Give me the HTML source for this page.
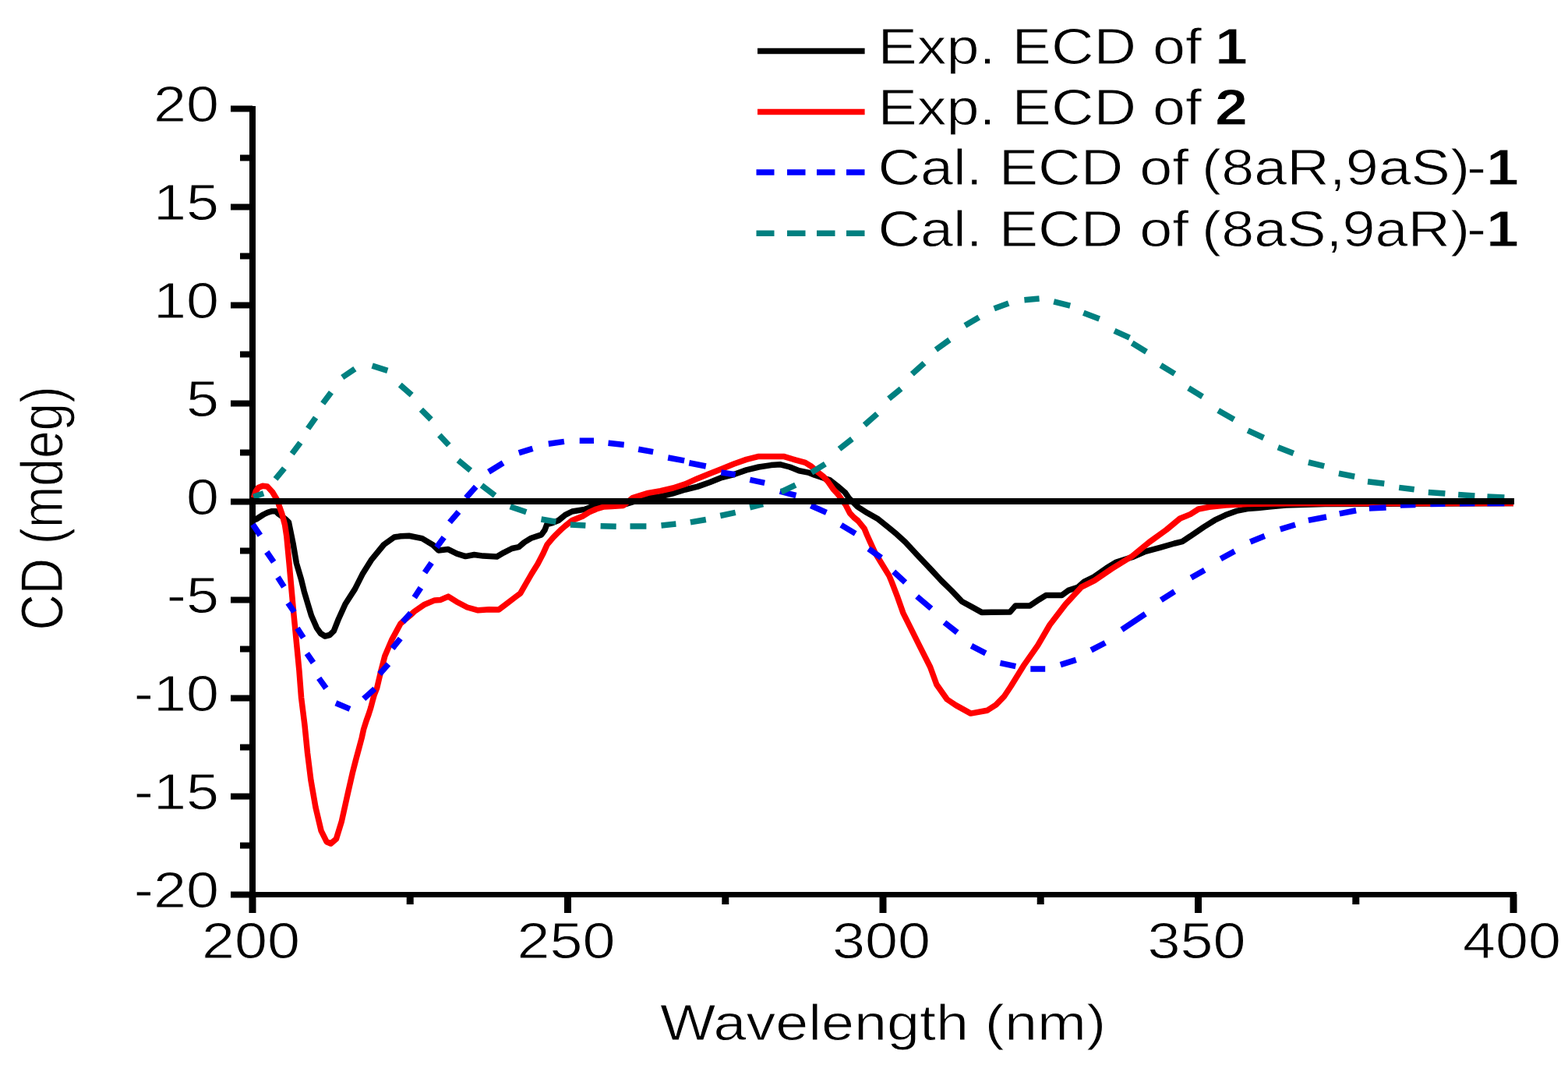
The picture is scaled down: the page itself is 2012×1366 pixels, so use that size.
<!DOCTYPE html>
<html><head><meta charset="utf-8"><title>CD spectra</title>
<style>
html,body{margin:0;padding:0;background:#fff;}
svg{display:block;}
text{font-family:"Liberation Sans",Arial,sans-serif;fill:#000;stroke:#fff;stroke-width:0.9px;}
</style></head>
<body>
<svg width="2012" height="1366" viewBox="0 0 2012 1366">
<rect width="2012" height="1366" fill="#fff"/>
<line x1="324" y1="136" x2="324" y2="1171" stroke="#000" stroke-width="8"/>
<line x1="320" y1="1147.5" x2="1946" y2="1147.5" stroke="#000" stroke-width="7"/>
<line x1="296" y1="139.5" x2="324" y2="139.5" stroke="#000" stroke-width="8"/>
<line x1="308" y1="202.5" x2="324" y2="202.5" stroke="#000" stroke-width="8"/>
<line x1="296" y1="265.5" x2="324" y2="265.5" stroke="#000" stroke-width="8"/>
<line x1="308" y1="328.5" x2="324" y2="328.5" stroke="#000" stroke-width="8"/>
<line x1="296" y1="391.5" x2="324" y2="391.5" stroke="#000" stroke-width="8"/>
<line x1="308" y1="454.5" x2="324" y2="454.5" stroke="#000" stroke-width="8"/>
<line x1="296" y1="517.5" x2="324" y2="517.5" stroke="#000" stroke-width="8"/>
<line x1="308" y1="580.5" x2="324" y2="580.5" stroke="#000" stroke-width="8"/>
<line x1="296" y1="643.5" x2="324" y2="643.5" stroke="#000" stroke-width="8"/>
<line x1="308" y1="706.5" x2="324" y2="706.5" stroke="#000" stroke-width="8"/>
<line x1="296" y1="769.5" x2="324" y2="769.5" stroke="#000" stroke-width="8"/>
<line x1="308" y1="832.5" x2="324" y2="832.5" stroke="#000" stroke-width="8"/>
<line x1="296" y1="895.5" x2="324" y2="895.5" stroke="#000" stroke-width="8"/>
<line x1="308" y1="958.5" x2="324" y2="958.5" stroke="#000" stroke-width="8"/>
<line x1="296" y1="1021.5" x2="324" y2="1021.5" stroke="#000" stroke-width="8"/>
<line x1="308" y1="1084.5" x2="324" y2="1084.5" stroke="#000" stroke-width="8"/>
<line x1="296" y1="1147.5" x2="324" y2="1147.5" stroke="#000" stroke-width="8"/>
<line x1="324.0" y1="1147" x2="324.0" y2="1171" stroke="#000" stroke-width="9"/>
<line x1="526.2" y1="1147" x2="526.2" y2="1160" stroke="#000" stroke-width="9"/>
<line x1="728.5" y1="1147" x2="728.5" y2="1171" stroke="#000" stroke-width="9"/>
<line x1="930.8" y1="1147" x2="930.8" y2="1160" stroke="#000" stroke-width="9"/>
<line x1="1133.0" y1="1147" x2="1133.0" y2="1171" stroke="#000" stroke-width="9"/>
<line x1="1335.2" y1="1147" x2="1335.2" y2="1160" stroke="#000" stroke-width="9"/>
<line x1="1537.5" y1="1147" x2="1537.5" y2="1171" stroke="#000" stroke-width="9"/>
<line x1="1739.8" y1="1147" x2="1739.8" y2="1160" stroke="#000" stroke-width="9"/>
<line x1="1942.0" y1="1147" x2="1942.0" y2="1171" stroke="#000" stroke-width="9"/>
<path d="M324.0,667.5 L328.7,666.0 L338.0,660.0 L343.4,657.3 L349.0,655.7 L354.0,655.7 L357.0,659.0 L362.0,662.5 L367.0,666.5 L370.5,670.0 L372.3,678.7 L376.3,698.3 L380.4,722.5 L386.5,743.1 L390.3,758.7 L394.9,774.2 L399.6,789.8 L406.4,805.3 L411.5,812.5 L417.0,816.0 L423.0,814.5 L428.3,809.4 L434.5,793.7 L443.1,774.7 L455.4,755.6 L465.0,736.6 L476.9,717.6 L492.6,698.5 L505.9,689.0 L514.0,687.8 L524.9,687.2 L541.7,690.6 L555.6,699.0 L562.6,705.9 L575.1,704.6 L586.2,710.1 L597.3,713.6 L608.5,711.5 L620.0,713.1 L637.6,714.0 L646.4,708.8 L656.9,703.5 L665.7,701.7 L672.7,695.6 L681.5,690.3 L694.7,685.9 L699.1,679.8 L701.7,672.7 L707.9,671.0 L716.7,667.5 L725.4,660.4 L734.2,656.0 L750.0,653.4 L757.1,650.8 L768.0,649.0 L785.0,648.5 L800.0,647.5 L815.0,643.0 L831.0,639.0 L847.5,636.8 L863.4,632.8 L879.3,628.0 L895.2,624.1 L911.1,618.5 L925.9,612.5 L941.8,608.5 L957.7,602.9 L973.6,599.0 L989.5,596.6 L1001.5,595.8 L1013.4,599.0 L1025.3,603.7 L1037.2,606.1 L1045.2,609.3 L1057.1,613.3 L1064.4,615.5 L1074.6,623.4 L1084.2,631.5 L1089.3,638.8 L1100.3,649.8 L1112.7,657.8 L1126.8,665.8 L1139.6,676.2 L1150.6,685.2 L1161.6,695.2 L1178.3,713.2 L1194.8,730.6 L1207.9,744.8 L1221.1,757.6 L1234.3,771.5 L1246.5,778.1 L1259.6,785.4 L1295.9,785.1 L1303.1,776.9 L1321.5,776.9 L1333.8,768.7 L1342.0,763.6 L1362.5,763.6 L1370.7,757.4 L1383.0,753.3 L1391.2,746.2 L1403.5,740.0 L1420.0,728.5 L1432.4,721.0 L1452.7,714.7 L1469.8,707.3 L1488.5,702.3 L1507.1,697.0 L1517.0,694.7 L1530.9,685.3 L1544.8,675.9 L1558.7,667.2 L1572.6,660.6 L1586.5,655.4 L1600.5,652.6 L1614.4,651.6 L1628.3,650.0 L1650.0,648.0 L1700.0,646.5 L1942.0,645.5" fill="none" stroke="#000" stroke-width="7.5" stroke-linejoin="round"/>
<path d="M325.5,638.5 L328.0,630.5 L331.5,625.5 L337.0,623.3 L343.0,624.0 L349.5,631.0 L355.5,641.0 L361.8,659.0 L365.5,673.0 L367.8,688.0 L371.0,722.0 L376.6,784.5 L381.0,830.0 L383.9,860.0 L386.6,895.1 L391.0,930.3 L394.5,965.4 L398.9,1000.6 L405.0,1035.7 L412.1,1065.6 L419.1,1079.7 L424.4,1082.0 L431.4,1076.2 L438.4,1053.3 L445.4,1021.7 L452.2,991.8 L456.5,975.0 L460.5,960.2 L464.2,946.4 L466.6,935.4 L470.1,924.4 L473.0,916.4 L475.8,907.6 L478.1,898.8 L480.0,892.0 L483.7,882.5 L488.5,862.0 L493.8,841.5 L503.0,820.0 L513.9,800.0 L520.5,794.0 L527.8,788.0 L531.4,784.5 L543.9,775.8 L557.8,769.9 L564.8,769.6 L575.2,765.1 L585.7,771.7 L599.6,779.0 L613.5,782.8 L627.4,781.8 L640.0,782.1 L648.3,775.8 L662.2,765.1 L667.8,760.9 L674.9,748.5 L682.1,736.0 L689.9,723.6 L696.4,711.1 L702.0,698.7 L709.8,689.3 L716.0,683.1 L720.5,678.8 L725.4,674.5 L734.2,667.5 L747.4,662.2 L756.2,656.9 L765.0,653.0 L775.0,650.0 L785.0,649.5 L799.8,648.5 L811.7,638.5 L831.6,632.4 L847.5,629.6 L863.4,626.0 L879.3,620.9 L895.2,613.7 L910.0,607.7 L925.9,601.4 L941.8,595.0 L957.7,589.4 L973.6,585.4 L989.5,585.4 L1005.4,585.4 L1021.3,590.2 L1033.3,593.4 L1041.2,598.2 L1049.2,605.3 L1057.1,611.7 L1062.9,618.3 L1069.5,627.8 L1076.1,635.1 L1085.4,648.2 L1090.5,658.1 L1095.5,663.5 L1101.0,668.0 L1109.0,677.8 L1112.4,686.0 L1116.5,695.1 L1123.0,709.3 L1130.0,720.7 L1141.0,738.6 L1144.3,746.6 L1151.9,766.4 L1158.8,786.1 L1168.7,805.9 L1178.5,825.6 L1193.7,855.7 L1201.8,878.0 L1215.2,897.0 L1226.6,904.6 L1245.6,915.1 L1266.6,911.3 L1277.9,904.1 L1288.8,892.8 L1297.1,880.2 L1313.2,854.2 L1331.6,827.9 L1347.0,801.5 L1367.2,775.1 L1387.4,753.2 L1404.4,744.6 L1426.4,729.6 L1452.7,713.4 L1474.7,695.4 L1496.7,679.5 L1514.2,665.0 L1527.4,659.6 L1537.8,653.0 L1551.8,650.3 L1572.6,648.0 L1600.5,646.5 L1650.0,645.8 L1942.0,645.5" fill="none" stroke="#ff0000" stroke-width="7.5" stroke-linejoin="round"/>
<path d="M324.4,672.7L333.9,686.7M342.3,708.0L351.2,720.9M356.5,740.4L364.4,752.7M369.6,773.4L377.5,785.0M381.4,805.7L389.3,818.0M393.8,838.1L402.0,850.0M409.2,869.9L418.4,882.8M430.9,901.8L449.0,909.4M466.7,896.3L480.9,883.5M487.1,864.5L498.4,851.8M503.5,831.7L513.8,819.0M516.8,797.8L527.0,786.1M531.7,766.4L539.9,753.9M545.0,734.4L553.7,721.9M560.3,701.9L569.7,689.2M577.0,669.9L588.5,656.5M598.0,638.4L610.7,624.2M627.0,605.2L645.6,593.7M665.8,580.8L683.5,575.3M703.8,569.2L723.9,566.4M743.7,565.2L762.0,565.2M780.5,568.2L800.7,570.4M819.2,576.2L838.1,579.6M857.2,587.0L878.1,590.9M884.3,593.8L905.8,598.0M925.3,606.0L943.7,608.8M962.3,615.4L981.2,619.4M1000.8,630.2L1021.4,635.5M1040.5,648.5L1060.4,657.4M1079.3,673.4L1097.7,684.4M1114.6,703.9L1130.8,715.4M1146.7,733.2L1161.6,746.9M1176.6,765.0L1194.9,780.5M1211.9,798.4L1228.3,811.3M1246.4,828.3L1264.8,837.8M1283.4,850.4L1303.3,854.6M1322.3,857.9L1341.2,857.9M1360.8,852.6L1380.7,846.3M1400.1,833.9L1418.2,824.5M1439.4,807.7L1469.7,787.3M1489.8,769.7L1507.1,758.7M1528.4,741.1L1545.7,731.3M1566.3,716.8L1584.2,707.0M1604.3,695.1L1622.8,687.6M1642.7,678.8L1662.0,673.0M1678.9,667.4L1702.0,663.0M1718.8,658.9L1740.1,654.8M1756.9,651.9L1778.6,650.9M1796.9,648.0L1816.4,647.5M1835.3,646.5L1854.4,646.3M1872.9,645.8L1892.4,645.6M1908.4,645.5L1930.4,645.5" fill="none" stroke="#0000ff" stroke-width="7.5"/>
<path d="M325.3,637.2L338.2,632.8M353.5,614.4L364.9,600.6M374.7,581.9L385.4,567.7M395.2,549.6L405.1,535.6M414.2,517.5L424.9,503.3M439.3,484.0L455.4,473.1M477.6,469.2L497.3,475.4M513.3,493.7L528.2,506.6M540.4,525.3L553.1,538.0M563.8,558.2L575.9,571.0M588.0,590.4L603.7,603.3M618.0,622.6L635.1,635.5M654.7,649.8L675.3,656.8M694.5,666.0L713.4,669.3M731.9,672.9L751.4,674.1M770.6,674.7L790.7,675.2M808.5,675.1L829.4,675.1M848.5,673.9L867.4,672.1M885.9,669.9L905.8,666.5M924.3,661.5L943.7,657.3M962.2,650.8L979.2,646.7M1002.4,631.0L1020.8,622.1M1041.3,606.0L1058.9,595.1M1077.0,575.9L1093.4,563.0M1109.3,545.1L1125.6,530.8M1140.5,511.4L1156.1,498.7M1170.4,479.7L1186.0,465.7M1200.9,448.5L1218.4,435.9M1238.3,417.5L1256.2,407.1M1275.7,395.8L1294.2,389.0M1314.4,384.7L1333.6,383.0M1352.2,386.9L1373.2,392.2M1390.3,401.2L1410.7,409.1M1430.0,424.3L1449.4,433.2M1452.7,440.0L1471.0,451.3M1489.4,468.5L1507.3,479.4M1525.1,497.8L1543.0,508.7M1563.2,526.5L1583.4,538.0M1601.2,552.1L1621.5,561.5M1639.9,573.8L1659.8,581.6M1678.9,593.0L1699.2,597.9M1717.9,607.3L1738.2,611.2M1755.0,617.7L1776.3,620.3M1795.2,625.4L1814.7,627.8M1832.8,631.4L1854.4,632.9M1871.2,634.6L1892.4,635.9M1908.4,637.0L1930.4,638.0" fill="none" stroke="#008080" stroke-width="7.5"/>
<line x1="324" y1="643" x2="1943" y2="643" stroke="#000" stroke-width="8"/>
<text transform="translate(281.0,155.5) scale(1.18,1)" text-anchor="end" font-size="64" >20</text>
<text transform="translate(281.0,281.5) scale(1.18,1)" text-anchor="end" font-size="64" >15</text>
<text transform="translate(281.0,407.5) scale(1.18,1)" text-anchor="end" font-size="64" >10</text>
<text transform="translate(281.0,533.5) scale(1.18,1)" text-anchor="end" font-size="64" >5</text>
<text transform="translate(281.0,659.5) scale(1.18,1)" text-anchor="end" font-size="64" >0</text>
<text transform="translate(281.0,785.5) scale(1.18,1)" text-anchor="end" font-size="64" >-5</text>
<text transform="translate(281.0,911.5) scale(1.18,1)" text-anchor="end" font-size="64" >-10</text>
<text transform="translate(281.0,1037.5) scale(1.18,1)" text-anchor="end" font-size="64" >-15</text>
<text transform="translate(281.0,1163.5) scale(1.18,1)" text-anchor="end" font-size="64" >-20</text>
<text transform="translate(322.0,1229.0) scale(1.18,1)" text-anchor="middle" font-size="64" >200</text>
<text transform="translate(726.5,1229.0) scale(1.18,1)" text-anchor="middle" font-size="64" >250</text>
<text transform="translate(1131.0,1229.0) scale(1.18,1)" text-anchor="middle" font-size="64" >300</text>
<text transform="translate(1535.5,1229.0) scale(1.18,1)" text-anchor="middle" font-size="64" >350</text>
<text transform="translate(1940.0,1229.0) scale(1.18,1)" text-anchor="middle" font-size="64" >400</text>
<text transform="translate(1133.0,1333.5) scale(1.18,1)" text-anchor="middle" font-size="64" >Wavelength (nm)</text>
<text transform="translate(80,652) scale(1.18,1) rotate(-90)" text-anchor="middle" font-size="64">CD (mdeg)</text>
<line x1="972" y1="65.4" x2="1109.6" y2="65.4" stroke="#000" stroke-width="7.5"/>
<text transform="translate(1126.5,81.7) scale(1.18,1)" font-size="64">Exp. ECD of</text>
<text transform="translate(1559.0,81.7) scale(1.18,1)" font-size="64" font-weight="bold">1</text>
<line x1="972" y1="143.5" x2="1109.6" y2="143.5" stroke="#ff0000" stroke-width="7.5"/>
<text transform="translate(1126.5,159.8) scale(1.18,1)" font-size="64">Exp. ECD of</text>
<text transform="translate(1559.0,159.8) scale(1.18,1)" font-size="64" font-weight="bold">2</text>
<path d="M970.5,220.9H993.5M1010,220.9H1033.5M1048,220.9H1071.5M1086,220.9H1109.5" stroke="#0000ff" stroke-width="7.5" fill="none"/>
<text transform="translate(1126.5,237.2) scale(1.18,1)" font-size="64">Cal. ECD of</text>
<text transform="translate(1542.0,237.2) scale(1.18,1)" font-size="64">(8aR,9aS)</text>
<text transform="translate(1882.0,237.2) scale(1.18,1)" font-size="64">-</text>
<text transform="translate(1907.0,237.2) scale(1.18,1)" font-size="64" font-weight="bold">1</text>
<path d="M970.5,299.3H993.5M1010,299.3H1033.5M1048,299.3H1071.5M1086,299.3H1109.5" stroke="#008080" stroke-width="7.5" fill="none"/>
<text transform="translate(1126.5,315.6) scale(1.18,1)" font-size="64">Cal. ECD of</text>
<text transform="translate(1542.0,315.6) scale(1.18,1)" font-size="64">(8aS,9aR)</text>
<text transform="translate(1882.0,315.6) scale(1.18,1)" font-size="64">-</text>
<text transform="translate(1907.0,315.6) scale(1.18,1)" font-size="64" font-weight="bold">1</text>
</svg>
</body></html>
